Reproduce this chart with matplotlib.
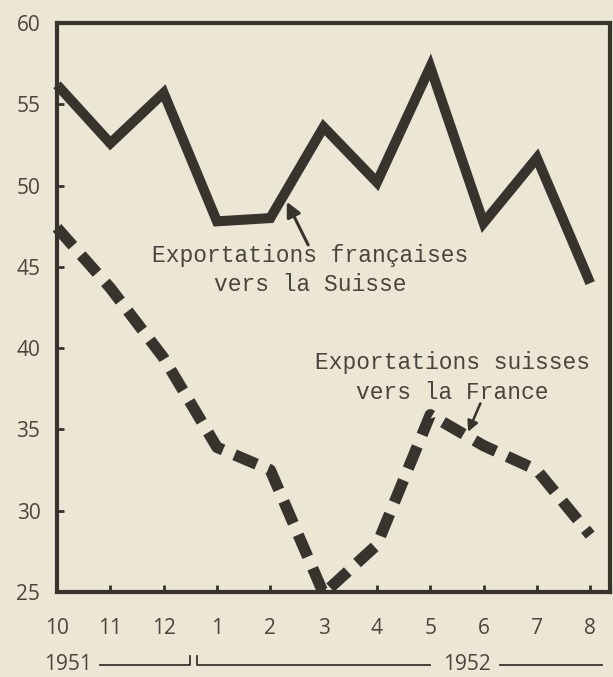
import matplotlib
matplotlib.use('Agg')
from matplotlib import pyplot as plt
from matplotlib import transforms

# monthly values, Oct 1951 -> Aug 1952
months       = ['10', '11', '12', '1', '2', '3', '4', '5', '6', '7', '8']
fr_to_ch     = [56.2, 52.6, 55.7, 47.8, 48.0, 53.6, 50.2, 57.3, 47.7, 51.7, 44.0]
ch_to_fr     = [47.4, 43.7, 39.4, 33.9, 32.5, 24.9, 27.9, 35.9, 34.0, 32.5, 28.5]
yticks       = [25, 30, 35, 40, 45, 50, 55, 60]

paper = '#ece6d4'
ink   = '#39332e'
type_ink = '#4a443e'

plt.rcParams.update({'font.family': 'Open Sans', 'font.size': 15})

fig = plt.figure(figsize=(6.13, 6.77), dpi=100, facecolor=paper)
ax = fig.add_axes([0.093, 0.1256, 0.902, 0.8404], facecolor=paper)

x = list(range(len(months)))
ax.plot(x, fr_to_ch, color=ink, linewidth=7.2, solid_joinstyle='miter',
        solid_capstyle='butt', clip_on=False, zorder=3)
ax.plot(x, ch_to_fr, color=ink, linewidth=8.2, dashes=(2.1, 1.1),
        dash_capstyle='butt', clip_on=False, zorder=3)

ax.set_xlim(0, 10.37)
ax.set_ylim(25, 60)
ax.set_xticks(x)
ax.set_xticklabels(months)
ax.set_yticks(yticks)
ax.tick_params(axis='both', direction='in', length=5, width=2, color=ink,
               labelcolor=type_ink, labelsize=15)
ax.tick_params(axis='x', pad=19)
ax.tick_params(axis='y', pad=12)

for s in ax.spines.values():
    s.set_linewidth(3)
    s.set_color(ink)

# labels and arrows
mono = 'Liberation Mono'
ax.text(4.75, 44.8, 'Exportations françaises\nvers la Suisse', ha='center', va='center',
        fontsize=16.5, family=mono, color=type_ink, linespacing=1.3)
ax.text(7.42, 38.2, 'Exportations suisses\nvers la France', ha='center', va='center',
        fontsize=16.5, family=mono, color=type_ink, linespacing=1.38)
ax.annotate('', xy=(4.31, 49.0), xytext=(4.71, 46.35),
            arrowprops=dict(arrowstyle='-|>', color=ink, lw=2.2, mutation_scale=22,
                            shrinkA=0, shrinkB=0))
ax.annotate('', xy=(7.71, 34.85), xytext=(7.94, 36.6),
            arrowprops=dict(arrowstyle='-|>', color=ink, lw=1.8, mutation_scale=16,
                            shrinkA=0, shrinkB=0))

# year brackets under the month labels
tr = transforms.blended_transform_factory(ax.transData, ax.transAxes)
yy = -0.128
ax.text(0.2, yy, '1951', transform=tr, ha='center', va='center', color=type_ink, fontsize=15)
ax.text(7.69, yy, '1952', transform=tr, ha='center', va='center', color=type_ink, fontsize=15)
line_kw = dict(transform=tr, color=ink, lw=1.3, clip_on=False)
ax.plot([0.81, 2.49, 2.49], [yy, yy, yy + 0.016], **line_kw)
ax.plot([2.63, 2.63, 7.0], [yy + 0.016, yy, yy], **line_kw)
ax.plot([8.31, 10.22], [yy, yy], **line_kw)

fig.savefig('out.png', facecolor=paper)
